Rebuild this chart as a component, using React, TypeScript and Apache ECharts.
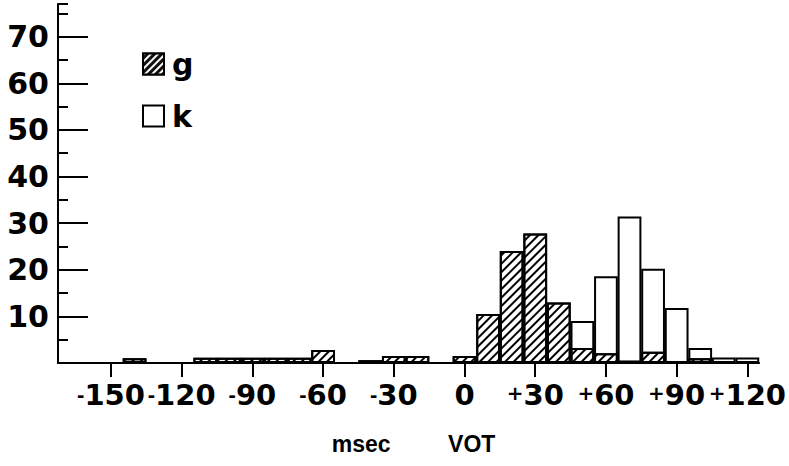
import React, { useEffect, useRef } from "react";
import * as echarts from "echarts";

// VOT bin centres (msec) and counts
const gVot = [-140, -110, -100, -90, -80, -70, -60, -40, -30, -20, 0, 10, 20, 30, 40, 50, 60, 70, 80, 100];
const gCount = [1, 1.1, 1.1, 1.1, 1.1, 1.1, 2.8, 0.6, 1.5, 1.5, 1.5, 10.5, 24, 27.8, 13, 3.2, 2.1, 0.5, 2.4, 1];
const kVot = [50, 60, 70, 80, 90, 100, 110, 120];
const kCount = [9, 18.6, 31.4, 20.2, 11.8, 3.2, 1.2, 1.2];
const xTicks = [-150, -120, -90, -60, -30, 0, 30, 60, 90, 120];
const seriesNames = ["g", "k"];

const X_MIN = -172.5;
const X_MAX = 125;
const BIN = 10;
const GRID_LEFT = 58;
const GRID_RIGHT = 24;
const W = 789;
const FONT = "'DejaVu Sans', sans-serif";
const TITLE_FONT = "'Liberation Sans', Arial, sans-serif";

export default function App() {
  const ref = useRef<HTMLDivElement>(null);
  useEffect(() => {
    if (!ref.current) return;
    const chart = echarts.init(ref.current, null, { renderer: "svg" });
    const plotW = W - GRID_LEFT - GRID_RIGHT;
    const barW = (BIN * plotW) / (X_MAX - X_MIN);
    const hatch = {
      symbol: "rect",
      symbolSize: 1,
      dashArrayX: [1, 0],
      dashArrayY: [2, 4],
      rotation: -Math.PI / 4,
      color: "#000",
    };
    const legendHatch = {
      symbol: "rect",
      symbolSize: 1,
      dashArrayX: [1, 0],
      dashArrayY: [1.5, 3],
      rotation: -Math.PI / 4,
      color: "#fff",
    };
    const labelStyle = { fontSize: 29, fontWeight: "bold", color: "#000", fontFamily: FONT };
    chart.setOption({
      animation: false,
      backgroundColor: "#fff",
      grid: { left: GRID_LEFT, right: GRID_RIGHT, top: 4, bottom: 103, containLabel: false },
      legend: {
        data: [
          { name: seriesNames[0], itemStyle: { color: "#111", borderColor: "#000", borderWidth: 2, decal: legendHatch } },
          { name: seriesNames[1] },
        ],
        orient: "vertical",
        left: 142,
        top: 49,
        itemWidth: 21,
        itemHeight: 21,
        itemGap: 22,
        icon: "rect",
        padding: 0,
        textStyle: { ...labelStyle, fontSize: 30, padding: [0, 0, 0, 3] },
      },
      xAxis: {
        type: "value",
        min: X_MIN,
        max: X_MAX,
        splitLine: { show: false },
        axisLine: { show: true, onZero: false, lineStyle: { color: "#000", width: 2 } },
        axisTick: {
          show: true,
          customValues: xTicks,
          length: 14,
          lineStyle: { color: "#000", width: 2 },
        },
        axisLabel: {
          ...labelStyle,
          customValues: xTicks,
          showMinLabel: true,
          showMaxLabel: true,
          hideOverlap: false,
          margin: 17,
          formatter: (v: number) => (v > 0 ? "{p|+}" + v : v < 0 ? "{m|-}" + -v : String(v)),
          rich: {
            p: {
              fontSize: 20,
              fontWeight: "bold",
              fontFamily: FONT,
              color: "#000",
              verticalAlign: "middle",
              padding: [0, 0, 3, 0],
            },
            m: { fontSize: 22, fontWeight: "bold", fontFamily: TITLE_FONT, color: "#000", verticalAlign: "middle" },
          },
        },
        name: "msec         VOT",
        nameLocation: "middle",
        nameGap: 69,
        nameTextStyle: {
          fontSize: 23,
          fontWeight: "bold",
          color: "#000",
          fontFamily: TITLE_FONT,
          padding: [0, 0, 0, 10],
        },
      },
      yAxis: [
        {
          type: "value",
          min: 0,
          max: 77,
          interval: 10,
          splitLine: { show: false },
          axisLine: { show: true, onZero: false, lineStyle: { color: "#000", width: 2 } },
          axisTick: { show: true, inside: true, length: 30, lineStyle: { color: "#000", width: 2 } },
          axisLabel: {
            ...labelStyle,
            fontSize: 30,
            margin: 9,
            showMaxLabel: false,
            formatter: (v: number) => (v === 0 ? "" : String(v)),
          },
        },
        {
          type: "value",
          position: "left",
          min: 0,
          max: 77,
          interval: 5,
          splitLine: { show: false },
          axisLine: { show: false, onZero: false },
          axisTick: { show: true, inside: true, length: 10, lineStyle: { color: "#000", width: 2 } },
          axisLabel: { show: false },
        },
      ],
      series: [
        {
          name: seriesNames[1],
          type: "bar",
          barWidth: barW,
          barGap: "-100%",
          data: kVot.map((x, i) => [x, kCount[i]]),
          itemStyle: { color: "#fff", borderColor: "#000", borderWidth: 2 },
        },
        {
          name: seriesNames[0],
          type: "bar",
          barWidth: barW,
          barGap: "-100%",
          data: gVot.map((x, i) => [x, gCount[i]]),
          itemStyle: { color: "#fff", borderColor: "#000", borderWidth: 2, decal: hatch },
        },
      ],
    });
    return () => chart.dispose();
  }, []);
  return <div ref={ref} style={{ width: W, height: 466, position: "absolute", left: 0, top: 0 }} />;
}
